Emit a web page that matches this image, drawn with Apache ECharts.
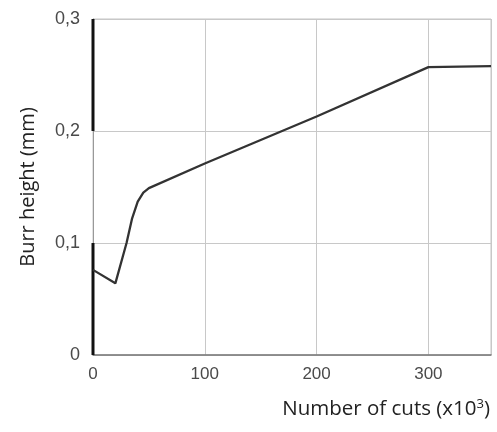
<!DOCTYPE html>
<html>
<head>
<meta charset="utf-8">
<script src="https://cdn.jsdelivr.net/npm/echarts@6/dist/echarts.min.js"></script>
<style>
  html, body { margin: 0; padding: 0; background: #fff; }
</style>
</head>
<body>
<div id="chart" style="width: 497px; height: 432px"></div>
<script>
// number of cuts (x10^3)
var cuts = [0, 20, 30, 35, 40, 45, 50, 100, 200, 300, 356];
// burr height (mm)
var burr = [0.076, 0.064, 0.1, 0.122, 0.137, 0.145, 0.149, 0.171, 0.213, 0.257, 0.258];
// dark stretches of the scanned y axis
var axisMarks = [[0, 0], [0, 0.1], null, [0, 0.2], [0, 0.3]];

var myChart = echarts.init(document.getElementById("chart"));

var lineData = [];
for (var i = 0; i < cuts.length; i++) {
  lineData.push([cuts[i], burr[i]]);
}
var markData = axisMarks.map(function (p) {
  return p ? p : [null, null];
});

var option = {
  backgroundColor: "#fff",
  animation: false,
  title: {
    text: "Number of cuts (x10{sup|3})",
    right: 2,
    top: 393,
    textStyle: {
      fontFamily: "Open Sans",
      fontWeight: "normal",
      fontSize: 20.5,
      color: "#222",
      rich: {
        sup: { fontSize: 13, verticalAlign: "top", padding: [0, 0, 10, 0], color: "#222", fontFamily: "Open Sans" }
      }
    }
  },
  grid: {
    left: 93,
    right: 6,
    top: 19,
    bottom: 77,
    show: true,
    borderColor: "#c4c4c4",
    borderWidth: 1
  },
  xAxis: {
    type: "value",
    min: 0,
    max: 356,
    interval: 100,
    axisLine: { show: true, lineStyle: { color: "#777", width: 1.5 } },
    axisTick: { show: false },
    splitLine: { show: true, lineStyle: { color: "#c8c8c8", width: 1 } },
    axisLabel: {
      color: "#4a4a4a",
      fontSize: 17,
      fontFamily: "Liberation Sans",
      margin: 11,
      showMaxLabel: false
    }
  },
  yAxis: {
    type: "value",
    min: 0,
    max: 0.3,
    interval: 0.1,
    name: "Burr height (mm)",
    nameLocation: "middle",
    nameGap: 55,
    nameTextStyle: { fontFamily: "Open Sans", fontSize: 20, color: "#222" },
    axisLine: { show: true, lineStyle: { color: "#999", width: 1 } },
    axisTick: { show: false },
    splitLine: { show: true, lineStyle: { color: "#c8c8c8", width: 1 } },
    axisLabel: {
      color: "#4a4a4a",
      fontSize: 18,
      fontFamily: "Liberation Sans",
      margin: 13,
      formatter: function (v) {
        return String(Math.round(v * 10) / 10).replace(".", ",");
      }
    }
  },
  series: [
    {
      type: "line",
      data: markData,
      symbol: "none",
      connectNulls: false,
      lineStyle: { color: "#111", width: 3 },
      z: 3
    },
    {
      type: "line",
      data: lineData,
      symbol: "none",
      smooth: false,
      lineStyle: { color: "#333", width: 2.3 },
      z: 4
    }
  ]
};

myChart.setOption(option);
</script>
</body>
</html>
